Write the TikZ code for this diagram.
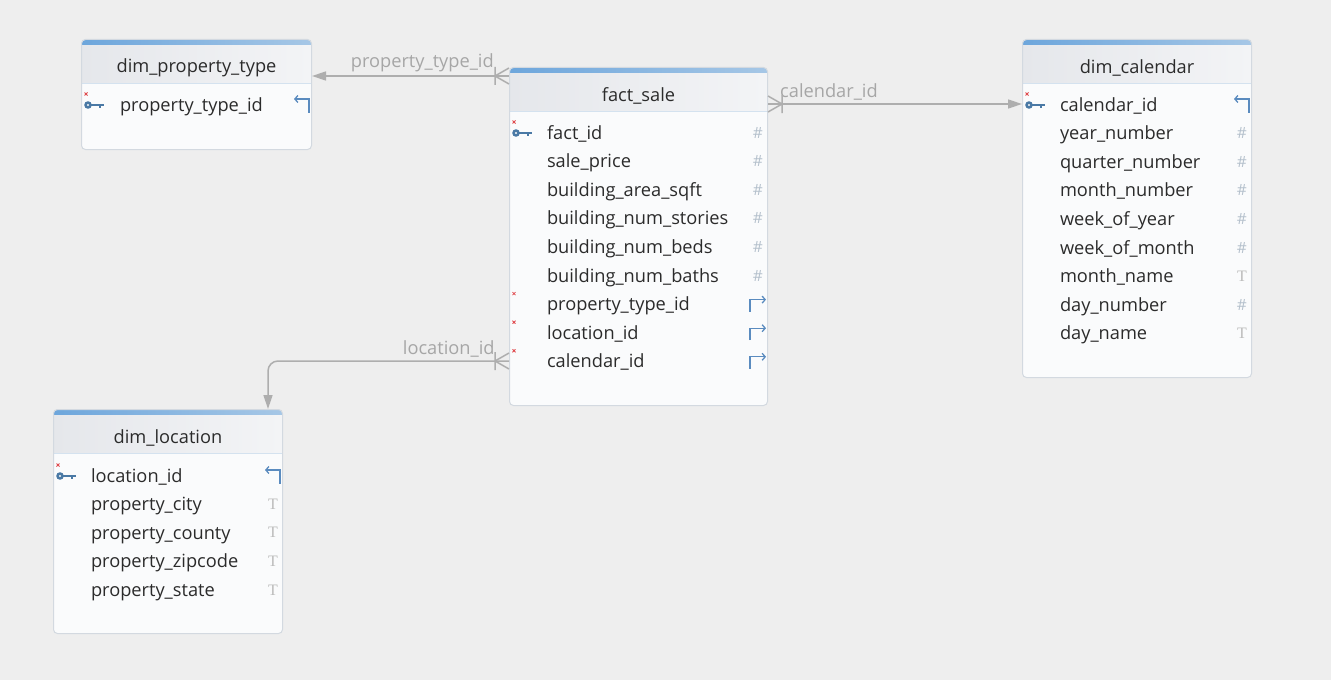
\documentclass[tikz,border=0pt]{standalone}
\usepackage{fontspec}
\setmainfont{Open Sans}
\newfontfamily\serifico{Liberation Serif}
\usetikzlibrary{shapes,arrows,arrows.meta,calc,positioning,backgrounds}

\definecolor{canvas}{HTML}{EEEEEE}
\definecolor{bodyfill}{HTML}{FAFBFC}
\definecolor{tblline}{HTML}{D3D9E0}
\definecolor{headl}{HTML}{E5E7EB}
\definecolor{headr}{HTML}{F3F4F6}
\definecolor{barl}{HTML}{6DA6DC}
\definecolor{barr}{HTML}{A6C7E6}
\definecolor{headrule}{HTML}{D4E2EF}
\definecolor{txt}{HTML}{2B2B2B}
\definecolor{relc}{HTML}{AEAEAE}
\definecolor{rellbl}{HTML}{A6A6A6}
\definecolor{numc}{HTML}{B4C0CC}
\definecolor{tc}{HTML}{BCBCBC}
\definecolor{keyc}{HTML}{4A79A5}
\definecolor{arrc}{HTML}{5A8BBF}
\definecolor{nnc}{HTML}{E04A4E}

\tikzset{
  pk/.pic={
    \draw[nnc, line width=0.8bp] (3.5,-14.5) -- (6.5,-11.5) (3.5,-11.5) -- (6.5,-14.5);
    \fill[keyc] (7,-2) circle (3.8bp);
    \fill[bodyfill] (7,-2) circle (1.2bp);
    \draw[keyc, line width=2.2bp] (10,-2) -- (23,-2) (19,-2) -- (19,0.5);
  },
  nn/.pic={
    \draw[nnc, line width=0.8bp] (3.5,-14.5) -- (6.5,-11.5) (3.5,-11.5) -- (6.5,-14.5);
  },
  pkarr/.pic={
    \draw[arrc, line width=1.3bp, {Straight Barb[length=3bp,width=7bp]}-] (-18,-8) -- (-3,-8) -- (-3,6);
  },
  fkarr/.pic={
    \draw[arrc, line width=1.3bp, -{Straight Barb[length=3bp,width=7bp]}] (-18,5) -- (-18,-7) -- (-2,-7);
  },
  crow/.pic={
    \draw[relc, line width=1.5bp] (0,-9) -- (0,9) (0,0) -- (14,-8) (0,0) -- (14,8);
  }
}

\begin{document}
\begin{tikzpicture}[x=1bp, y=-1bp,
tbl/.style={draw=tblline, line width=1bp, fill=bodyfill, rounded corners=4bp, anchor=north west, inner sep=0pt,
  path picture={
    \shade[sharp corners, left color=headl, right color=headr] (path picture bounding box.north west) rectangle ([yshift=-44bp]path picture bounding box.north east);
    \shade[sharp corners, left color=barl, right color=barr] (path picture bounding box.north west) rectangle ([yshift=-5bp]path picture bounding box.north east);
    \draw[sharp corners, headrule, line width=1.5bp] ([yshift=-44bp]path picture bounding box.north west) -- ([yshift=-44bp]path picture bounding box.north east);
  }},
title/.style={font=\fontsize{18.3}{22}\selectfont, text=txt, inner sep=0pt, minimum height=40bp},
row/.style={font=\fontsize{18.3}{22}\selectfont, text=txt, text width=195bp, align=left, inner sep=0pt, outer sep=0pt,
  minimum height=28.6bp, text height=12bp, text depth=4bp, node distance=0pt},
numico/.style={left=5bp, yshift=2.5bp, inner sep=0pt, text=numc, font=\fontsize{15.5}{15}\selectfont},
txtico/.style={left=5bp, yshift=2.5bp, inner sep=0pt, text=tc, font=\serifico\fontsize{16}{16}\selectfont},
relline/.style={draw=relc, line width=1.5bp, -{Triangle[length=14bp,width=9bp]}},
lbl/.style={text=rellbl, font=\fontsize{18.3}{22}\selectfont, inner sep=0pt, above=3bp}]

\fill[canvas] (0,0) rectangle (1331,680);
\useasboundingbox (0,0) rectangle (1331,680);

% tables
\node[tbl, minimum width=230bp, minimum height=110bp] (PT) at (81,39) {};
\node[tbl, minimum width=258bp, minimum height=338bp] (FS) at (509,67) {};
\node[tbl, minimum width=229bp, minimum height=338bp] (DC) at (1022,39) {};
\node[tbl, minimum width=229bp, minimum height=224bp] (DL) at (53,409) {};

% dim_property_type
\node[title, below=9bp of PT.north] (PTt) {dim\_property\_type};
\node[row, anchor=west] (P1) at ([xshift=39bp,yshift=-68bp]PT.north west) {property\_type\_id};
\pic at (P1 -| PT.west) {pk};
\pic at (P1 -| PT.east) {pkarr};

% fact_sale
\node[title, below=9bp of FS.north] (FSt) {fact\_sale};
\node[row, anchor=west] (F1) at ([xshift=38bp,yshift=-68bp]FS.north west) {fact\_id};
\node[row, below=of F1] (F2) {sale\_price};
\node[row, below=of F2] (F3) {building\_area\_sqft};
\node[row, below=of F3] (F4) {building\_num\_stories};
\node[row, below=of F4] (F5) {building\_num\_beds};
\node[row, below=of F5] (F6) {building\_num\_baths};
\node[row, below=of F6] (F7) {property\_type\_id};
\node[row, below=of F7] (F8) {location\_id};
\node[row, below=of F8] (F9) {calendar\_id};
\pic at (F1 -| FS.west) {pk};
\pic at (F7 -| FS.west) {nn};
\pic at (F8 -| FS.west) {nn};
\pic at (F9 -| FS.west) {nn};
\node[numico] (F1i) at (F1 -| FS.east) {\#};
\node[numico] (F2i) at (F2 -| FS.east) {\#};
\node[numico] (F3i) at (F3 -| FS.east) {\#};
\node[numico] (F4i) at (F4 -| FS.east) {\#};
\node[numico] (F5i) at (F5 -| FS.east) {\#};
\node[numico] (F6i) at (F6 -| FS.east) {\#};
\pic at (F7 -| FS.east) {fkarr};
\pic at (F8 -| FS.east) {fkarr};
\pic at (F9 -| FS.east) {fkarr};

% dim_calendar
\node[title, below=9bp of DC.north] (DCt) {dim\_calendar};
\node[row, anchor=west] (C1) at ([xshift=38bp,yshift=-68bp]DC.north west) {calendar\_id};
\node[row, below=of C1] (C2) {year\_number};
\node[row, below=of C2] (C3) {quarter\_number};
\node[row, below=of C3] (C4) {month\_number};
\node[row, below=of C4] (C5) {week\_of\_year};
\node[row, below=of C5] (C6) {week\_of\_month};
\node[row, below=of C6] (C7) {month\_name};
\node[row, below=of C7] (C8) {day\_number};
\node[row, below=of C8] (C9) {day\_name};
\pic at (C1 -| DC.west) {pk};
\pic at (C1 -| DC.east) {pkarr};
\node[numico] (C2i) at (C2 -| DC.east) {\#};
\node[numico] (C3i) at (C3 -| DC.east) {\#};
\node[numico] (C4i) at (C4 -| DC.east) {\#};
\node[numico] (C5i) at (C5 -| DC.east) {\#};
\node[numico] (C6i) at (C6 -| DC.east) {\#};
\node[txtico] (C7i) at (C7 -| DC.east) {T};
\node[numico] (C8i) at (C8 -| DC.east) {\#};
\node[txtico] (C9i) at (C9 -| DC.east) {T};

% dim_location
\node[title, below=9bp of DL.north] (DLt) {dim\_location};
\node[row, anchor=west] (L1) at ([xshift=38bp,yshift=-69bp]DL.north west) {location\_id};
\node[row, below=of L1] (L2) {property\_city};
\node[row, below=of L2] (L3) {property\_county};
\node[row, below=of L3] (L4) {property\_zipcode};
\node[row, below=of L4] (L5) {property\_state};
\pic at (L1 -| DL.west) {pk};
\pic at (L1 -| DL.east) {pkarr};
\node[txtico] (L2i) at (L2 -| DL.east) {T};
\node[txtico] (L3i) at (L3 -| DL.east) {T};
\node[txtico] (L4i) at (L4 -| DL.east) {T};
\node[txtico] (L5i) at (L5 -| DL.east) {T};

% relations
\coordinate (ptc) at ([yshift=-9bp]FS.north west);
\coordinate (cal) at ([yshift=-37bp]FS.north east);
\coordinate (loc) at ([yshift=-294bp]FS.north west);
\draw[relline] (ptc) -- node[lbl, pos=0.44] (ptl) {property\_type\_id} (ptc -| PT.east);
\draw[relline] (cal) -- node[lbl, pos=0.24] (cll) {calendar\_id} (cal -| DC.west);
\draw[relline, rounded corners=10bp] (loc) -| node[lbl, pos=0.125] (lcl) {location\_id} ([xshift=-15bp]DL.north east);
\pic at ([xshift=-14bp]ptc) {crow};
\pic at ([xshift=-14bp]loc) {crow};
\pic[xscale=-1] at ([xshift=14bp]cal) {crow};
\end{tikzpicture}
\end{document}
